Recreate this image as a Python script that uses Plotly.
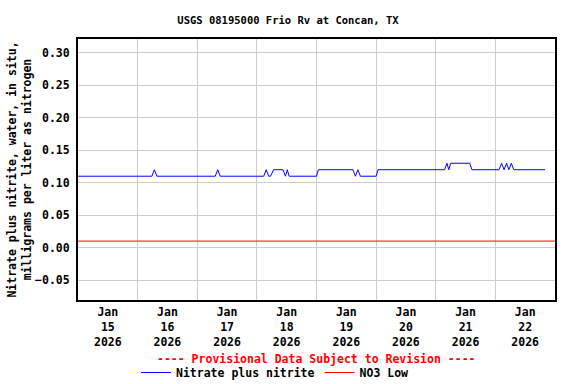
import plotly.graph_objects as go

# ---- data ----
nitrate_times = [
    "2026-01-15 00:00", "2026-01-16 05:45", "2026-01-16 06:45", "2026-01-16 07:45",
    "2026-01-17 07:15", "2026-01-17 08:15", "2026-01-17 09:15",
    "2026-01-18 02:45", "2026-01-18 03:45", "2026-01-18 04:45", "2026-01-18 05:30",
    "2026-01-18 06:45", "2026-01-18 10:30", "2026-01-18 11:30", "2026-01-18 12:15",
    "2026-01-18 13:00", "2026-01-19 00:00", "2026-01-19 00:45", "2026-01-19 14:40",
    "2026-01-19 15:40", "2026-01-19 16:40", "2026-01-19 17:40", "2026-01-20 00:00",
    "2026-01-20 00:45", "2026-01-21 03:35", "2026-01-21 04:30", "2026-01-21 05:15",
    "2026-01-21 06:00", "2026-01-21 13:40", "2026-01-21 14:35", "2026-01-22 01:30",
    "2026-01-22 02:30", "2026-01-22 03:30", "2026-01-22 04:30", "2026-01-22 05:25",
    "2026-01-22 06:25", "2026-01-22 07:25", "2026-01-22 20:00",
]
nitrate_values = [
    0.11, 0.11, 0.12, 0.11,
    0.11, 0.12, 0.11,
    0.11, 0.12, 0.11, 0.11,
    0.12, 0.12, 0.11, 0.12,
    0.11, 0.11, 0.12, 0.12,
    0.11, 0.12, 0.11, 0.11,
    0.12, 0.12, 0.13, 0.12,
    0.13, 0.13, 0.12, 0.12,
    0.13, 0.12, 0.13, 0.12,
    0.13, 0.12, 0.12,
]
no3_low_times = ["2026-01-15 00:00", "2026-01-23 00:00"]
no3_low_values = [0.01, 0.01]

tick_days = ["2026-01-15 12:00", "2026-01-16 12:00", "2026-01-17 12:00", "2026-01-18 12:00",
             "2026-01-19 12:00", "2026-01-20 12:00", "2026-01-21 12:00", "2026-01-22 12:00"]
tick_labels = ["Jan<br>15<br>2026", "Jan<br>16<br>2026", "Jan<br>17<br>2026", "Jan<br>18<br>2026",
               "Jan<br>19<br>2026", "Jan<br>20<br>2026", "Jan<br>21<br>2026", "Jan<br>22<br>2026"]

title_text = "USGS 08195000 Frio Rv at Concan, TX"
y_title = "Nitrate plus nitrite, water, in situ,<br>milligrams per liter as nitrogen"
provisional = "---- Provisional Data Subject to Revision ----"

FONT = "DejaVu Sans Mono"

fig = go.Figure()
fig.add_trace(go.Scatter(x=nitrate_times, y=nitrate_values, mode="lines",
                         name="Nitrate plus nitrite",
                         line=dict(color="#0000ff", width=1)))
fig.add_trace(go.Scatter(x=no3_low_times, y=no3_low_values, mode="lines",
                         name="NO3 Low",
                         line=dict(color="#ff0000", width=1)))

fig.update_layout(
    width=576, height=384,
    margin=dict(l=78, r=21, t=39, b=84, autoexpand=False),
    paper_bgcolor="white", plot_bgcolor="white",
    font=dict(family=FONT, size=11.5, color="black", weight="bold"),
    title=dict(text=title_text, x=0.5, xanchor="center", xref="container",
               yref="container", y=1 - 20 / 384, yanchor="middle",
               font=dict(family=FONT, size=10.5, color="black", weight="bold")),
    showlegend=True,
    legend=dict(orientation="h", xref="container", yref="container",
                x=136 / 576, xanchor="left", y=(384 - 372.5) / 384, yanchor="middle",
                font=dict(family=FONT, size=11.5, color="black", weight="bold"),
                itemwidth=30, bgcolor="rgba(0,0,0,0)", tracegroupgap=0),
)

fig.update_xaxes(
    type="date", range=["2026-01-15 00:00", "2026-01-23 00:00"],
    tickmode="array", tickvals=tick_days, ticktext=tick_labels,
    showgrid=False, ticks="", ticklen=0, automargin=False,
    minor=dict(tick0="2026-01-15", dtick=86400000, showgrid=True, gridcolor="#cccccc", gridwidth=1, ticks=""),
    showline=True, linecolor="black", linewidth=2, mirror=True,
    zeroline=False, tickfont=dict(family=FONT, size=11.5, weight="bold"),
)
fig.update_yaxes(
    range=[-0.0808, 0.3215], tick0=0, dtick=0.05, tickformat=".2f",
    showgrid=True, gridcolor="#cccccc", gridwidth=1, automargin=False,
    ticks="", showline=True, linecolor="black", linewidth=2, mirror=True,
    zeroline=False, ticklabelstandoff=4,
    tickfont=dict(family=FONT, size=11.5, weight="bold"),
    title=dict(text=y_title, standoff=1, font=dict(family=FONT, size=11.5, weight="bold")),
)

fig.add_annotation(text=provisional, xref="paper", yref="paper", x=0.5, y=(300 - 359) / 261,
                   xanchor="center", yanchor="middle", showarrow=False,
                   font=dict(family=FONT, size=11.5, color="#ff0000", weight="bold"))

fig.write_html("out.html", config={"displayModeBar": False},
               post_script="document.body.style.margin='0';document.body.style.padding='0';")
